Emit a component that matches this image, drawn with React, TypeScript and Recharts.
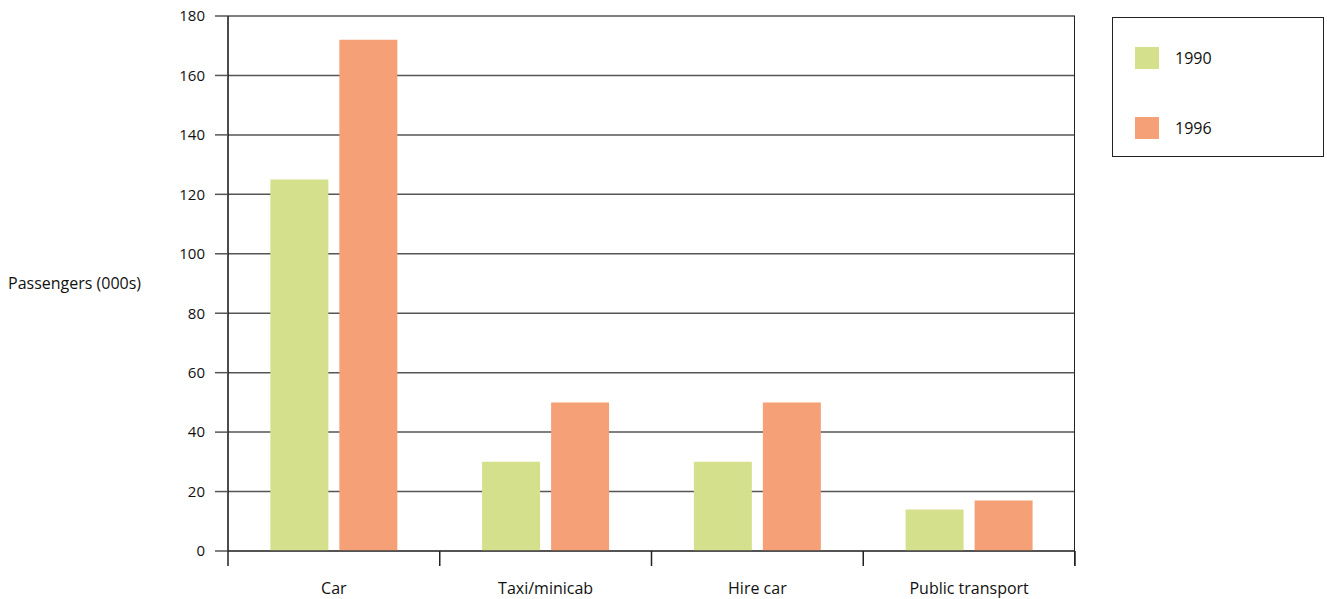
import React from "react";
import { BarChart, Bar, XAxis, YAxis, CartesianGrid } from "recharts";

const categories = ["Car", "Taxi/minicab", "Hire car", "Public transport"];
const values1990 = [125, 30, 30, 14];
const values1996 = [172, 50, 50, 17];
const yTicks = [0, 20, 40, 60, 80, 100, 120, 140, 160, 180];
const seriesNames = ["1990", "1996"];
const colors = ["#d5e08c", "#f6a077"];

const data = categories.map((c, i) => ({ name: c, y1990: values1990[i], y1996: values1996[i] }));

const W = 1327;
const H = 599;
const M = { top: 16, right: 252, left: 0, bottom: 0 };
const Y_AXIS_W = 228;
const X_AXIS_H = 48;
const band = (W - Y_AXIS_W - M.right) / categories.length;
const FONT = "'Open Sans', 'DejaVu Sans', sans-serif";

const XTick = (props: any) => {
  const { x, y, payload, index } = props;
  const y0 = y - 8; // axis line y
  return (
    <g>
      <line x1={x - band / 2} x2={x - band / 2} y1={y0} y2={y0 + 15} stroke="#222" strokeWidth={1.5} />
      {index === categories.length - 1 && (
        <line x1={x + band / 2} x2={x + band / 2} y1={y0} y2={y0 + 15} stroke="#222" strokeWidth={1.5} />
      )}
      <text x={x} y={y0 + 43} textAnchor="middle" fontSize={16} fill="#111" fontFamily={FONT}>
        {payload.value}
      </text>
    </g>
  );
};

const LegendBox = () => (
  <div
    style={{
      position: "absolute",
      left: 1112,
      top: 17,
      width: 212,
      height: 140,
      border: "1.5px solid #222",
      boxSizing: "border-box",
      fontFamily: FONT,
      fontSize: 16,
      color: "#111",
    }}
  >
    {seriesNames.map((n, i) => (
      <div key={n} style={{ position: "absolute", left: 22, top: 29 + i * 70, display: "flex", alignItems: "center" }}>
        <div style={{ width: 24, height: 22, background: colors[i] }} />
        <span style={{ marginLeft: 16 }}>{n}</span>
      </div>
    ))}
  </div>
);

export default function App() {
  return (
    <div style={{ position: "absolute", left: 0, top: 0, width: W, height: H, background: "#fff" }}>
      <BarChart width={W} height={H} data={data} margin={M} barCategoryGap="20%" barGap={11}>
        <CartesianGrid horizontal vertical={false} stroke="#555" strokeWidth={1.5} />
        <XAxis
          dataKey="name"
          height={X_AXIS_H}
          tickLine={false}
          axisLine={{ stroke: "#444", strokeWidth: 1.5 }}
          tick={<XTick />}
          interval={0}
        />
        <YAxis
          width={Y_AXIS_W}
          domain={[0, 180]}
          ticks={yTicks}
          interval={0}
          tickSize={13}
          tickMargin={10}
          tickLine={{ stroke: "#555", strokeWidth: 1.5 }}
          axisLine={{ stroke: "#111", strokeWidth: 1.5 }}
          tick={{ fontSize: 15, fill: "#111", fontFamily: FONT }}
          label={{ value: "Passengers (000s)", position: "insideLeft", offset: 8, fontSize: 16, fill: "#111", fontFamily: FONT }}
        />
        <Bar dataKey="y1990" name={seriesNames[0]} fill={colors[0]} isAnimationActive={false} />
        <Bar dataKey="y1996" name={seriesNames[1]} fill={colors[1]} isAnimationActive={false} />
      </BarChart>
      <div
        style={{ position: "absolute", left: W - M.right - 1, top: M.top, width: 0, height: H - M.top - X_AXIS_H + 15, borderLeft: "1.5px solid #222" }}
      />
      <LegendBox />
    </div>
  );
}
